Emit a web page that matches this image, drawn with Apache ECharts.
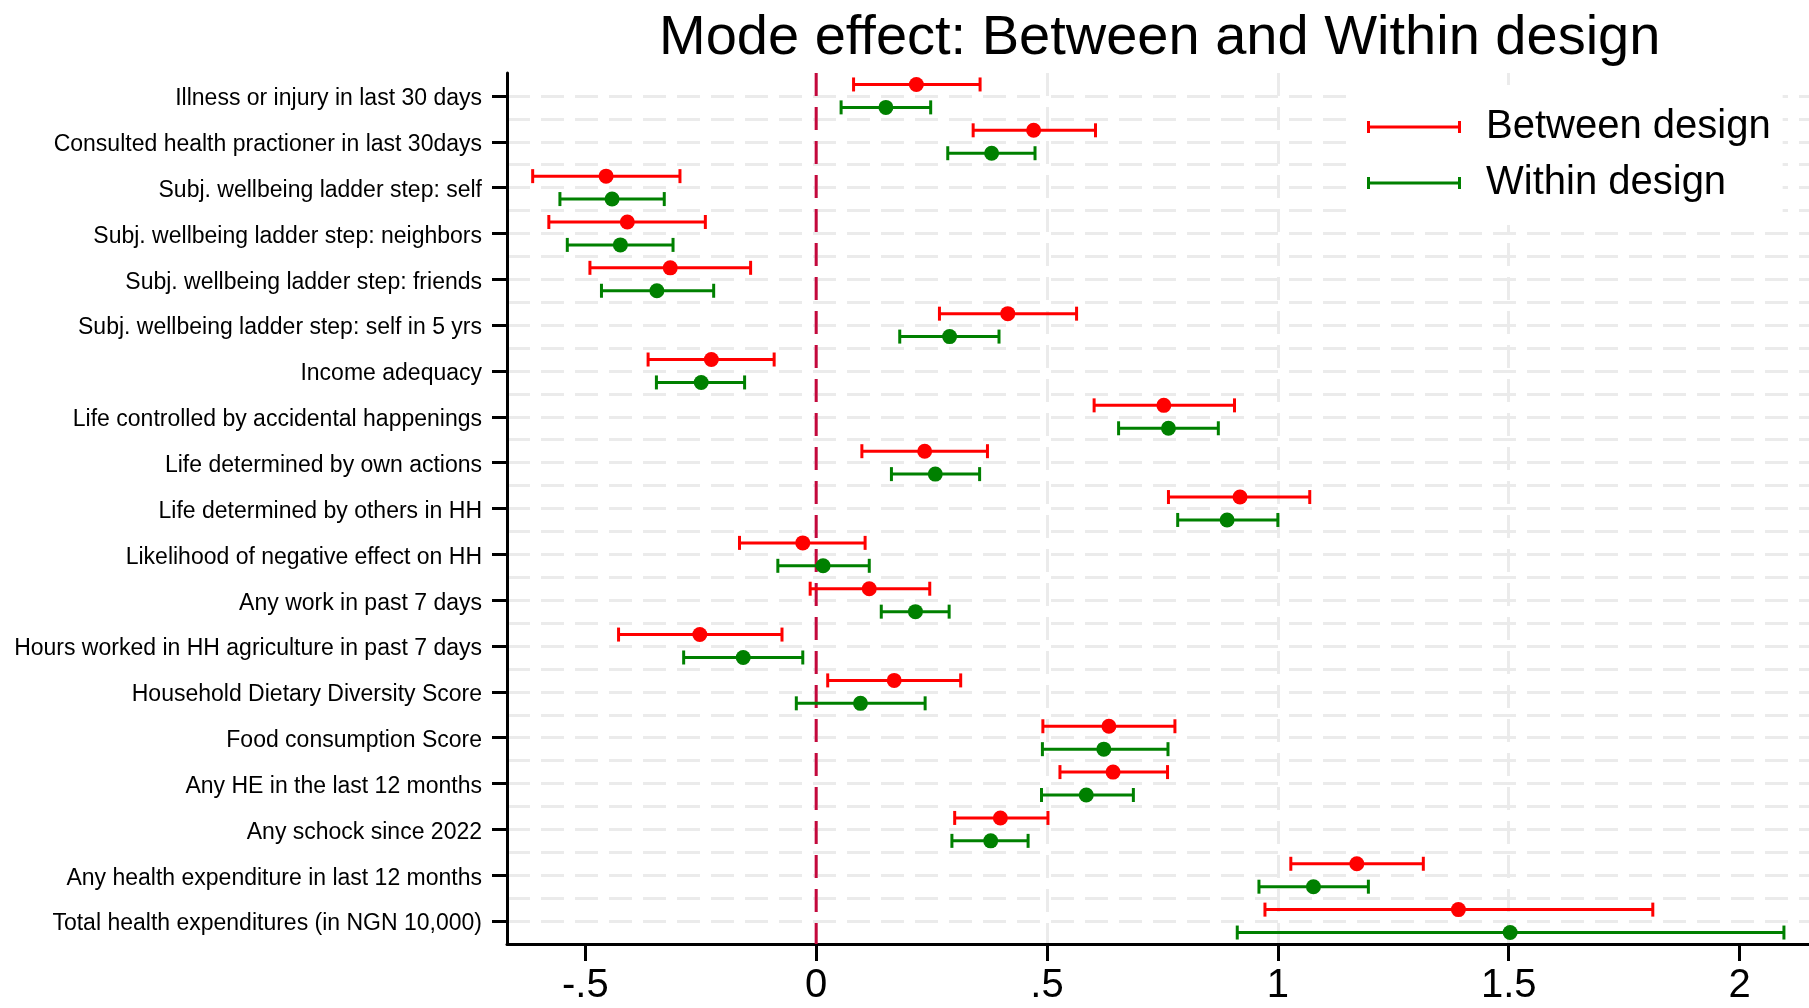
<!DOCTYPE html>
<html>
<head>
<meta charset="utf-8">
<script src="https://cdn.jsdelivr.net/npm/echarts@6/dist/echarts.min.js"></script>
<style>
html,body{margin:0;padding:0;background:#fff;}
#chart{width:1809px;height:1008px;}
</style>
</head>
<body>
<div id="chart"></div>
<script>
const categories = [
  'Illness or injury in last 30 days',
  'Consulted health practioner in last 30days',
  'Subj. wellbeing ladder step: self',
  'Subj. wellbeing ladder step: neighbors',
  'Subj. wellbeing ladder step: friends',
  'Subj. wellbeing ladder step: self in 5 yrs',
  'Income adequacy',
  'Life controlled by accidental happenings',
  'Life determined by own actions',
  'Life determined by others in HH',
  'Likelihood of negative effect on HH',
  'Any work in past 7 days',
  'Hours worked in HH agriculture in past 7 days',
  'Household Dietary Diversity Score',
  'Food consumption Score',
  'Any HE in the last 12 months',
  'Any schock since 2022',
  'Any health expenditure in last 12 months',
  'Total health expenditures (in NGN 10,000)'
];
const betweenEst = [0.217, 0.471, -0.455, -0.409, -0.316, 0.415, -0.227, 0.753, 0.235, 0.918, -0.029, 0.115, -0.252, 0.169, 0.634, 0.643, 0.399, 1.171, 1.391];
const betweenLo  = [0.081, 0.340, -0.614, -0.579, -0.490, 0.267, -0.364, 0.602, 0.099, 0.763, -0.166, -0.013, -0.428, 0.025, 0.491, 0.528, 0.300, 1.028, 0.972];
const betweenHi  = [0.355, 0.605, -0.295, -0.240, -0.142, 0.564, -0.091, 0.906, 0.371, 1.069, 0.106, 0.246, -0.074, 0.313, 0.777, 0.761, 0.502, 1.315, 1.812];
const withinEst  = [0.151, 0.380, -0.442, -0.424, -0.345, 0.289, -0.249, 0.763, 0.258, 0.890, 0.015, 0.215, -0.158, 0.096, 0.623, 0.585, 0.378, 1.077, 1.503];
const withinLo   = [0.054, 0.285, -0.555, -0.539, -0.465, 0.181, -0.346, 0.655, 0.163, 0.783, -0.083, 0.141, -0.287, -0.043, 0.490, 0.488, 0.294, 0.959, 0.912];
const withinHi   = [0.248, 0.474, -0.329, -0.310, -0.222, 0.396, -0.155, 0.871, 0.354, 1.000, 0.115, 0.288, -0.029, 0.236, 0.762, 0.687, 0.459, 1.196, 2.096];
const xTicks = [-0.5, 0, 0.5, 1, 1.5, 2];
const seriesNames = ['Between design', 'Within design'];
const referenceValue = [0];

const FONT = "'Liberation Sans', Arial, Helvetica, sans-serif";
const RED = '#ff0000';
const GREEN = '#008000';
const GRID_COLOR = '#ebebeb';

const chart = echarts.init(document.getElementById('chart'), null, {renderer: 'canvas'});

function rows(est, lo, hi) {
  return categories.map((c, i) => [est[i], lo[i], hi[i], i]);
}

function errorBarRenderer(offset) {
  return function (params, api) {
    const y = api.value(3) + offset;
    const pE = api.coord([api.value(0), y]);
    const pLo = api.coord([api.value(1), y]);
    const pHi = api.coord([api.value(2), y]);
    const color = api.visual('color');
    const half = 7;
    const st = {stroke: color, lineWidth: 3};
    return {
      type: 'group',
      children: [
        {type: 'line', shape: {x1: pLo[0], y1: pLo[1], x2: pHi[0], y2: pHi[1]}, style: st},
        {type: 'line', shape: {x1: pLo[0], y1: pLo[1] - half, x2: pLo[0], y2: pLo[1] + half}, style: st},
        {type: 'line', shape: {x1: pHi[0], y1: pHi[1] - half, x2: pHi[0], y2: pHi[1] + half}, style: st},
        {type: 'circle', shape: {cx: pE[0], cy: pE[1], r: 7.5}, style: {fill: color}}
      ]
    };
  };
}

const legendIcon = 'path://M0,0H3V12H0Z M0,4.5H94V7.5H0Z M91,0H94V12H91Z';

const option = {
  animation: false,
  backgroundColor: '#ffffff',
  title: {
    text: 'Mode effect: Between and Within design',
    left: 659,
    top: 11,
    padding: 0,
    textStyle: {fontFamily: FONT, fontSize: 56, fontWeight: 'normal', color: '#000'}
  },
  legend: {
    orient: 'vertical',
    left: 1352,
    top: 85,
    padding: [20, 12, 20, 15],
    backgroundColor: '#ffffff',
    itemWidth: 94,
    itemHeight: 12,
    itemGap: 12,
    selectedMode: false,
    data: seriesNames.map(n => ({name: n, icon: legendIcon})),
    textStyle: {fontFamily: FONT, fontSize: 40, color: '#000', lineHeight: 44, padding: [0, 0, 0, 20]}
  },
  grid: {left: 507, right: 0, top: 73, bottom: 64, containLabel: false},
  xAxis: {
    type: 'value',
    min: -0.6696,
    max: 2.1503,
    minInterval: 0.5,
    maxInterval: 0.5,
    axisLine: {show: true, onZero: false, lineStyle: {color: '#000', width: 3}},
    axisTick: {show: true, length: 17, lineStyle: {color: '#000', width: 3}, customValues: xTicks},
    axisLabel: {
      customValues: xTicks,
      fontFamily: FONT, fontSize: 40, color: '#000', margin: 22,
      formatter: v => String(v).replace(/^(-?)0\./, '$1.')
    },
    splitLine: {show: true, showMinLine: false, showMaxLine: false,
      lineStyle: {color: GRID_COLOR, width: 3, type: [23, 11]}}
  },
  yAxis: [
    {
      type: 'category',
      data: categories,
      inverse: true,
      axisLine: {show: true, onZero: false, lineStyle: {color: '#000', width: 3}},
      axisTick: {show: true, alignWithLabel: true, length: 15, lineStyle: {color: '#000', width: 3}},
      axisLabel: {fontFamily: FONT, fontSize: 23, color: '#000', margin: 25, verticalAlign: 'top', lineHeight: 6},
      splitLine: {show: false}
    },
    {
      type: 'value',
      min: -0.5,
      max: 18.5,
      interval: 0.5,
      inverse: true,
      position: 'left',
      axisLine: {show: false, onZero: false},
      axisTick: {show: false},
      axisLabel: {show: false},
      splitLine: {show: true, showMinLine: false, showMaxLine: false,
        lineStyle: {color: GRID_COLOR, width: 3, type: [23, 11]}}
    }
  ],
  series: [
    {
      name: 'zero',
      type: 'custom',
      yAxisIndex: 1,
      z: 1,
      silent: true,
      data: referenceValue.map(v => [v]),
      encode: {x: 0},
      renderItem: function (params, api) {
        const top = api.coord([api.value(0), -0.5]);
        const bot = api.coord([api.value(0), 18.5]);
        return {type: 'line', shape: {x1: top[0], y1: top[1], x2: bot[0], y2: bot[1]},
          style: {stroke: '#c4083c', lineWidth: 3, lineDash: [23, 11]}};
      }
    },
    {
      name: seriesNames[0],
      type: 'custom',
      yAxisIndex: 1,
      z: 3,
      itemStyle: {color: RED},
      data: rows(betweenEst, betweenLo, betweenHi),
      encode: {x: [0, 1, 2], y: 3},
      renderItem: errorBarRenderer(-0.25)
    },
    {
      name: seriesNames[1],
      type: 'custom',
      yAxisIndex: 1,
      z: 3,
      itemStyle: {color: GREEN},
      data: rows(withinEst, withinLo, withinHi),
      encode: {x: [0, 1, 2], y: 3},
      renderItem: errorBarRenderer(0.25)
    }
  ]
};
chart.setOption(option);
</script>
</body>
</html>
